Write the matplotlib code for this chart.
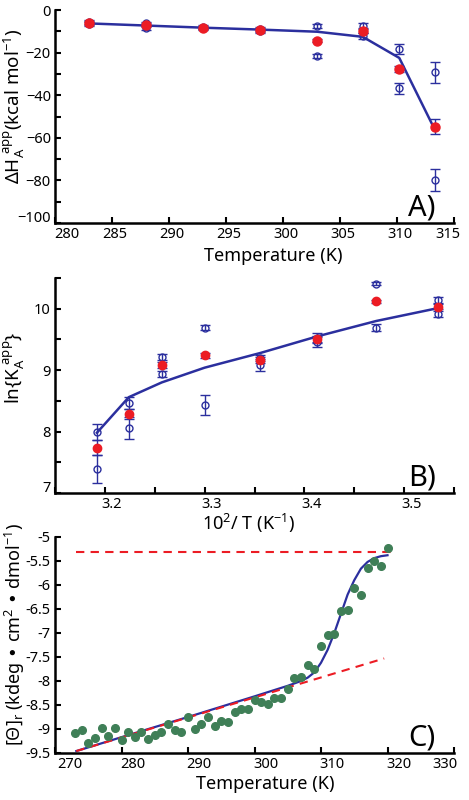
import matplotlib
matplotlib.use("Agg")
import matplotlib.pyplot as plt
from matplotlib.ticker import MultipleLocator, FixedLocator
from matplotlib.transforms import ScaledTranslation

plt.rcParams['font.family'] = ['Noto Sans', 'DejaVu Sans']
plt.rcParams['mathtext.default'] = 'regular'

# ---------------- Panel A data ----------------
T_A = [283, 288, 293, 298, 303, 307, 310.2, 313.3]
dH_mean = [-6.1, -7.0, -8.3, -9.4, -14.4, -9.9, -27.7, -54.8]
dH_mean_err = [0.8, 0.8, 0.8, 0.8, 0.8, 1.0, 1.5, 3.5]
dH_rep1 = [-5.6, -6.2, -7.9, -9.0, -7.6, -7.4, -18.3, -29.3]
dH_rep1_err = [0.8, 0.8, 0.8, 0.8, 1.0, 1.2, 2.5, 5.0]
dH_rep2 = [-6.6, -8.4, -8.6, -9.8, -21.5, -12.2, -36.8, -79.8]
dH_rep2_err = [0.8, 0.8, 0.8, 0.8, 1.0, 1.2, 2.5, 5.0]
dH_fit = [-6.3, -7.3, -8.3, -9.2, -10.2, -12.6, -22.5, -56.0]
A_xticks = [280, 285, 290, 295, 300, 305, 310, 315]
A_yticks = [-100, -80, -60, -40, -20, 0]

# ---------------- Panel B data ----------------
invT = [3.192, 3.224, 3.257, 3.300, 3.356, 3.413, 3.472, 3.534]
lnK_mean = [7.74, 8.28, 9.09, 9.24, 9.16, 9.51, 10.12, 10.03]
lnK_mean_err = [0.12, 0.08, 0.05, 0.04, 0.05, 0.05, 0.03, 0.04]
lnK_rep1 = [7.99, 8.46, 9.22, 9.69, 9.20, 9.53, 10.41, 10.14]
lnK_rep1_err = [0.13, 0.10, 0.05, 0.04, 0.05, 0.08, 0.03, 0.05]
lnK_rep2 = [7.39, 8.06, 8.94, 8.43, 9.08, 9.46, 9.69, 9.92]
lnK_rep2_err = [0.23, 0.18, 0.05, 0.16, 0.10, 0.08, 0.06, 0.05]
lnK_fit = [7.98, 8.56, 8.80, 9.04, 9.28, 9.55, 9.80, 10.01]
B_xticks = [3.2, 3.3, 3.4, 3.5]
B_yticks = [7, 8, 9, 10]

# ---------------- Panel C data ----------------
T_C = list(range(273, 321))
theta = [-9.08, -9.03, -9.29, -9.19, -8.97, -9.15, -8.98, -9.23, -9.06, -9.17,
         -9.07, -9.21, -9.13, -9.06, -8.90, -9.03, -9.07, -8.74, -9.01, -8.90,
         -8.74, -8.93, -8.83, -8.85, -8.65, -8.58, -8.58, -8.39, -8.44, -8.47,
         -8.36, -8.36, -8.17, -7.93, -7.92, -7.67, -7.76, -7.28, -7.04, -7.03,
         -6.55, -6.52, -6.07, -6.21, -5.65, -5.50, -5.61, -5.22]
T_fitC = [273.2, 280, 290, 300, 305, 307, 308, 309, 310, 311, 312, 313, 314,
          315, 316, 317, 318, 319, 320]
theta_fit = [-9.46, -9.17, -8.75, -8.32, -8.10, -8.00, -7.93, -7.82, -7.62,
             -7.35, -7.00, -6.60, -6.20, -5.90, -5.66, -5.52, -5.44, -5.40, -5.38]
T_low_base = [273.2, 319.5]
theta_low_base = [-9.46, -7.53]
T_high_base = [273.2, 320.9]
theta_high_base = [-5.31, -5.31]
C_xticks = [270, 280, 290, 300, 310, 320, 330]
C_yticks = [-9.5, -9, -8.5, -8, -7.5, -7, -6.5, -6, -5.5, -5]

BLUE = '#2b2f9e'
RED = '#ec1c24'
GREEN = '#3f7f57'

fig = plt.figure(figsize=(4.69, 8.0), dpi=100)
L, W = 55 / 469, 399 / 469
axA = fig.add_axes([L, 1 - 223 / 800, W, 213 / 800])
axB = fig.add_axes([L, 1 - 493 / 800, W, 215 / 800])
axC = fig.add_axes([L, 1 - 753 / 800, W, 216 / 800])


def style(ax):
    for s in ('top', 'right'):
        ax.spines[s].set_visible(False)
    for s in ('left', 'bottom'):
        ax.spines[s].set_linewidth(1.8)
    ax.tick_params(which='both', direction='in', length=4, width=1.5,
                   labelsize=10.5, pad=3)


def shift(label, dx, dy):
    label.set_transform(label.get_transform() +
                        ScaledTranslation(dx / 100, dy / 100, fig.dpi_scale_trans))


eb_kw = dict(capsize=3.5, elinewidth=1.0, capthick=1.0)

# ---- A ----
axA.plot(T_A, dH_fit, color=BLUE, lw=1.8, zorder=2)
axA.errorbar(T_A, dH_rep1, yerr=dH_rep1_err, fmt='o', mfc='none', mec=BLUE,
             ms=5, mew=1.0, ecolor=BLUE, zorder=3, **eb_kw)
axA.errorbar(T_A, dH_rep2, yerr=dH_rep2_err, fmt='o', mfc='none', mec=BLUE,
             ms=5, mew=1.0, ecolor=BLUE, zorder=3, **eb_kw)
axA.errorbar(T_A, dH_mean, yerr=dH_mean_err, fmt='o', color=RED, ms=6.5,
             ecolor=BLUE, zorder=4, **eb_kw)
axA.set_xlim(280, 315)
axA.set_ylim(-100, 0)
axA.xaxis.set_major_locator(FixedLocator(A_xticks))
axA.yaxis.set_major_locator(FixedLocator(A_yticks))
axA.yaxis.set_minor_locator(MultipleLocator(10))
style(axA)
axA.set_xlabel('Temperature (K)', fontsize=13)
axA.xaxis.set_label_coords(0.546, -0.112)
axA.set_ylabel(r'$\Delta$H$_A^{\ app}$(kcal mol$^{-1}$)', fontsize=13.5)
axA.yaxis.set_label_coords(-0.07, 0.55)
axA.text(0.92, 0.07, 'A)', transform=axA.transAxes, fontsize=21,
         ha='center', va='center')

# ---- B ----
axB.plot(invT, lnK_fit, color=BLUE, lw=1.8, zorder=2)
axB.errorbar(invT, lnK_rep1, yerr=lnK_rep1_err, fmt='o', mfc='none', mec=BLUE,
             ms=5, mew=1.0, ecolor=BLUE, zorder=3, **eb_kw)
axB.errorbar(invT, lnK_rep2, yerr=lnK_rep2_err, fmt='o', mfc='none', mec=BLUE,
             ms=5, mew=1.0, ecolor=BLUE, zorder=3, **eb_kw)
axB.errorbar(invT, lnK_mean, yerr=lnK_mean_err, fmt='o', color=RED, ms=6,
             ecolor=BLUE, zorder=4, **eb_kw)
axB.set_xlim(3.15, 3.55)
axB.set_ylim(7, 10.5)
axB.xaxis.set_major_locator(FixedLocator(B_xticks))
axB.xaxis.set_minor_locator(MultipleLocator(0.05))
axB.yaxis.set_major_locator(FixedLocator(B_yticks))
axB.yaxis.set_minor_locator(MultipleLocator(0.5))
style(axB)
axB.set_xlabel(r'10$^2$/ T (K$^{-1}$)', fontsize=13)
axB.xaxis.set_label_coords(0.484, -0.09)
axB.set_ylabel(r'ln{K$_A^{\ app}$}', fontsize=13.5)
axB.yaxis.set_label_coords(-0.07, 0.58)
axB.text(0.92, 0.07, 'B)', transform=axB.transAxes, fontsize=21,
         ha='center', va='center')

# ---- C ----
axC.plot(T_high_base, theta_high_base, color=RED, lw=1.5, ls=(0, (4, 3)), zorder=2)
axC.plot(T_low_base, theta_low_base, color=RED, lw=1.5, ls=(0, (4, 3)), zorder=2)
axC.plot(T_fitC, theta_fit, color=BLUE, lw=1.6, zorder=1)
axC.plot(T_C, theta, 'o', color=GREEN, ms=5.5, zorder=3)
axC.set_xlim(270, 330)
axC.set_ylim(-9.5, -5)
axC.xaxis.set_major_locator(FixedLocator(C_xticks))
axC.yaxis.set_major_locator(FixedLocator(C_yticks))
axC.yaxis.set_major_formatter(plt.FuncFormatter(lambda v, p: ('%g' % v)))
style(axC)
axC.set_xlabel('Temperature (K)', fontsize=13)
axC.xaxis.set_label_coords(0.526, -0.1)
axC.set_ylabel(r'[$\Theta$]$_r$ (kdeg • cm$^2$ • dmol$^{-1}$)', fontsize=13)
axC.yaxis.set_label_coords(-0.07, 0.55)
axC.text(0.92, 0.07, 'C)', transform=axC.transAxes, fontsize=21,
         ha='center', va='center')

# tick-label offsets as in the reference
labsA = axA.get_xticklabels()
for i, lab in enumerate(labsA):
    shift(lab, 12 if i == 0 else (-6 if i == len(labsA) - 1 else 3), 0)
for lab in axB.get_xticklabels():
    shift(lab, 7, 0)
labsC = axC.get_xticklabels()
for i, lab in enumerate(labsC):
    shift(lab, 15 if i == 0 else (-9 if i == len(labsC) - 1 else 11), 0)
shift(axA.get_yticklabels()[0], 0, 6)
shift(axB.get_yticklabels()[0], 0, 6)

fig.savefig('out.png', dpi=100)
